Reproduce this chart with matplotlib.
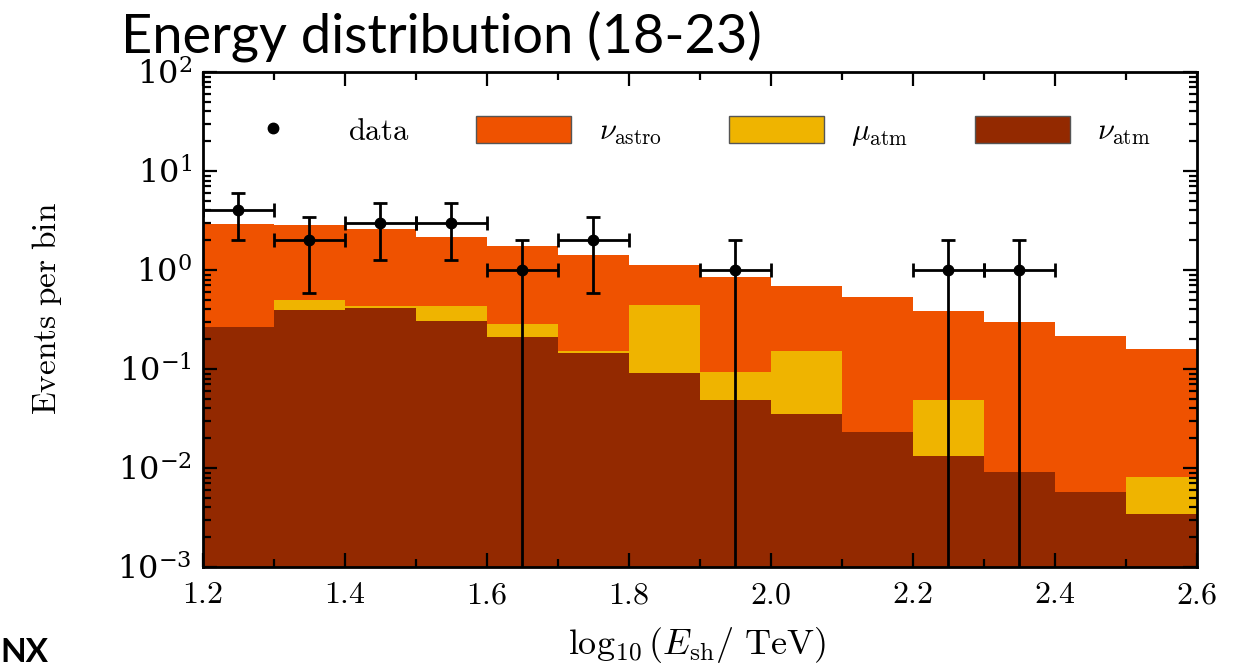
import numpy as np
import matplotlib
matplotlib.use("Agg")
import matplotlib.pyplot as plt
from matplotlib.ticker import MultipleLocator, LogLocator, FuncFormatter
from matplotlib.patches import Patch
from matplotlib.lines import Line2D

plt.rcParams['mathtext.fontset'] = 'cm'
plt.rcParams['font.family'] = 'DejaVu Serif'

# bin edges in log10(E_sh / TeV)
edges = [1.2, 1.3, 1.4, 1.5, 1.6, 1.7, 1.8, 1.9, 2.0, 2.1, 2.2, 2.3, 2.4, 2.5, 2.6]

# stacked expectations per bin (bottom to top)
nu_atm = [0.266, 0.394, 0.413, 0.305, 0.211, 0.145, 0.091, 0.049, 0.035, 0.023, 0.0133, 0.0091, 0.0057, 0.0034]
mu_atm = [0.0, 0.103, 0.020, 0.128, 0.074, 0.007, 0.352, 0.044, 0.117, 0.0, 0.0357, 0.0, 0.0, 0.0047]
nu_astro = [2.65, 2.35, 2.17, 1.72, 1.47, 1.27, 0.68, 0.76, 0.54, 0.51, 0.34, 0.29, 0.21, 0.15]

# observed events
data_x = [1.25, 1.35, 1.45, 1.55, 1.65, 1.75, 1.95, 2.25, 2.35]
data_y = [4, 2, 3, 3, 1, 2, 1, 1, 1]
data_err = [2.0, 1.41, 1.73, 1.73, 1.0, 1.41, 1.0, 1.0, 1.0]

c_astro = '#EF5200'
c_mu = '#EFB400'
c_atm = '#932900'

fig = plt.figure(figsize=(12.39, 6.69), dpi=100)
ax = fig.add_axes([0.1638, 0.1525, 0.8023, 0.7399])

left = np.array(edges[:-1])
w = np.diff(edges)
b1 = np.array(nu_atm)
b2 = b1 + np.array(mu_atm)

ax.bar(left, nu_atm, width=w, align='edge', color=c_atm, linewidth=0)
ax.bar(left, mu_atm, width=w, align='edge', bottom=b1, color=c_mu, linewidth=0)
ax.bar(left, nu_astro, width=w, align='edge', bottom=b2, color=c_astro, linewidth=0)

ax.errorbar(data_x, data_y, yerr=data_err, xerr=0.05, fmt='o', color='black',
            ms=7.5, elinewidth=2, capsize=5, capthick=2)

ax.set_yscale('log')
ax.set_xlim(1.2, 2.6)
ax.set_ylim(1e-3, 1e2)

ax.xaxis.set_major_locator(MultipleLocator(0.2))
ax.xaxis.set_minor_locator(MultipleLocator(0.1))
ax.xaxis.set_major_formatter(FuncFormatter(lambda v, p: r'$%.1f$' % v))
ax.yaxis.set_major_locator(LogLocator(base=10, numticks=10))
ax.yaxis.set_minor_locator(LogLocator(base=10, subs=np.arange(2, 10), numticks=20))
ax.tick_params(which='both', direction='in', top=True, right=True, width=1.6, labelsize=23)
ax.tick_params(which='major', length=10)
ax.tick_params(which='minor', length=6)
ax.tick_params(axis='x', pad=9)
ax.tick_params(axis='y', pad=8)
for s in ax.spines.values():
    s.set_linewidth(2)

ax.set_ylabel(r'$\mathrm{Events\ per\ bin}$', fontsize=24)
ax.yaxis.set_label_coords(-0.14, 0.523)
ax.set_xlabel(r'$\log_{10}(E_{\rm sh}/\ \mathrm{TeV})$', fontsize=26)
ax.xaxis.set_label_coords(0.497, -0.118)

handles = [Line2D([], [], marker='o', color='black', linestyle='none', ms=7.5),
           Patch(facecolor=c_astro, edgecolor='#555555', linewidth=1),
           Patch(facecolor=c_mu, edgecolor='#555555', linewidth=1),
           Patch(facecolor=c_atm, edgecolor='#555555', linewidth=1)]
labels = [r'$\mathrm{data}$', r'$\nu_{\rm astro}$', r'$\mu_{\rm atm}$', r'$\nu_{\rm atm}$']
ax.legend(handles, labels, loc='upper left', bbox_to_anchor=(0.023, 0.911), ncol=4,
          frameon=False, fontsize=22, borderpad=0, borderaxespad=0,
          handlelength=3.1, handleheight=1.0, columnspacing=2.2, handletextpad=0.9)

fig.text(0.098, 0.922, 'Energy distribution (18-23)', fontsize=39, family='Lato')
fig.text(0.0, 0.01, 'NX', fontsize=24, family='Lato', weight='bold')

fig.savefig('out.png', dpi=100)
